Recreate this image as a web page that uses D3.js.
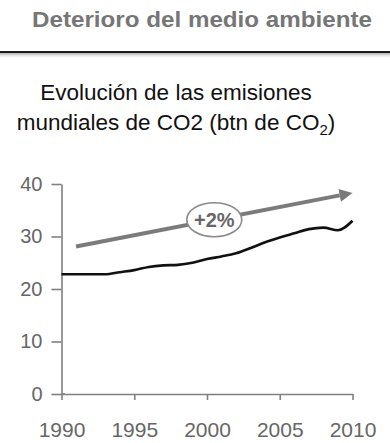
<!DOCTYPE html>
<html>
<head>
<meta charset="utf-8">
<script src="https://cdn.jsdelivr.net/npm/d3@7"></script>
<style>
  html, body { margin: 0; padding: 0; background: #fff; }
  svg { display: block; font-family: "Liberation Sans", Arial, sans-serif; }
</style>
</head>
<body>
<svg id="chart" width="390" height="443"></svg>
<script>
// Global CO2 emissions, billion tonnes
const years = [1990, 1991, 1992, 1993, 1994, 1995, 1996, 1997, 1998, 1999, 2000,
               2001, 2002, 2003, 2004, 2005, 2006, 2007, 2008, 2009, 2010];
const emissions = [22.8, 22.8, 22.8, 22.8, 23.2, 23.6, 24.2, 24.5, 24.6, 25.0, 25.7,
                   26.2, 26.8, 27.8, 28.9, 29.8, 30.6, 31.4, 31.7, 31.2, 33.0];
const yTicks = [0, 10, 20, 30, 40];
const xTicks = [1990, 1995, 2000, 2005, 2010];
// trend arrow: [year, value] start and end
const trendYears = [1991, 2010];
const trendValues = [28.1, 38.3];
const trendLabel = "+2%";

const svg = d3.select("#chart");

// header
svg.append("text")
  .attr("x", 202).attr("y", 26.5)
  .attr("text-anchor", "middle")
  .attr("font-size", 22.5).attr("font-weight", "bold")
  .attr("fill", "#767676")
  .attr("textLength", 340).attr("lengthAdjust", "spacingAndGlyphs")
  .text("Deterioro del medio ambiente");

const defs = svg.append("defs");
const grad = defs.append("linearGradient").attr("id", "shade")
  .attr("x1", 0).attr("y1", 0).attr("x2", 0).attr("y2", 1);
grad.append("stop").attr("offset", "0%").attr("stop-color", "#999").attr("stop-opacity", 0.8);
grad.append("stop").attr("offset", "100%").attr("stop-color", "#fff").attr("stop-opacity", 0);
svg.append("rect").attr("x", 0).attr("y", 53).attr("width", 390).attr("height", 6)
  .attr("fill", "url(#shade)");
svg.append("line").attr("x1", 0).attr("x2", 390).attr("y1", 52).attr("y2", 52)
  .attr("stroke", "#1a1a1a").attr("stroke-width", 2.2);

// subtitle
const sub = svg.append("text")
  .attr("text-anchor", "middle")
  .attr("font-size", 22.5).attr("fill", "#111");
sub.append("tspan").attr("x", 176).attr("y", 100).text("Evolución de las emisiones");
const l2 = sub.append("tspan").attr("x", 176).attr("y", 130);
l2.append("tspan").text("mundiales de CO2 (btn de CO");
l2.append("tspan").attr("font-size", 15).attr("dy", 5).text("2");
l2.append("tspan").attr("dy", -5).text(")");

// scales
const x = d3.scaleLinear().domain([1990, 2010]).range([61.5, 352.5]);
const y = d3.scaleLinear().domain([0, 40]).range([394, 184]);

const axisColor = "#808080";

// y axis
const gy = svg.append("g").attr("transform", "translate(61.5,0)")
  .call(d3.axisLeft(y).tickValues(yTicks).tickSize(10).tickPadding(9).tickSizeOuter(0));
gy.select(".domain").attr("stroke", axisColor).attr("stroke-width", 1.6);
gy.selectAll(".tick line").attr("stroke", axisColor).attr("stroke-width", 1.6);
gy.selectAll(".tick text").attr("font-size", 20).attr("fill", "#666")
  .attr("font-family", "Liberation Sans, Arial, sans-serif");

// x axis
const gx = svg.append("g").attr("transform", "translate(0,394)")
  .call(d3.axisBottom(x).tickValues(xTicks).tickFormat(d3.format("d"))
    .tickSize(6).tickPadding(22).tickSizeOuter(0));
gx.select(".domain").attr("stroke", axisColor).attr("stroke-width", 1.6);
gx.selectAll(".tick line").attr("stroke", axisColor).attr("stroke-width", 1.6);
gx.selectAll(".tick text").attr("font-size", 21).attr("fill", "#666")
  .attr("font-family", "Liberation Sans, Arial, sans-serif");
// the 0 tick crosses the y axis
svg.append("line").attr("x1", 61.5).attr("x2", 65).attr("y1", y(0)).attr("y2", y(0))
  .attr("stroke", axisColor).attr("stroke-width", 1.6);

// emissions line
const line = d3.line().x((d, i) => x(years[i])).y(d => y(d)).curve(d3.curveMonotoneX);
svg.append("path").datum(emissions)
  .attr("d", line)
  .attr("fill", "none").attr("stroke", "#111").attr("stroke-width", 2.6)
  .attr("stroke-linejoin", "round");

// trend arrow
const ax0 = x(trendYears[0]), ay0 = y(trendValues[0]);
const ax1 = x(trendYears[1]), ay1 = y(trendValues[1]);
const ang = Math.atan2(ay1 - ay0, ax1 - ax0);
const headLen = 13, headW = 6.5;
const bx = ax1 - headLen * Math.cos(ang), by = ay1 - headLen * Math.sin(ang);
const arrowColor = "#7b7b7b";
svg.append("line").attr("x1", ax0).attr("y1", ay0).attr("x2", bx).attr("y2", by)
  .attr("stroke", arrowColor).attr("stroke-width", 4);
svg.append("polygon")
  .attr("points", [
    [ax1, ay1],
    [bx + headW * Math.sin(ang), by - headW * Math.cos(ang)],
    [bx - headW * Math.sin(ang), by + headW * Math.cos(ang)]
  ].map(p => p.join(",")).join(" "))
  .attr("fill", arrowColor);

// growth label at the arrow midpoint
const mx = (ax0 + ax1) / 2, my = (ay0 + ay1) / 2;
svg.append("ellipse").attr("cx", mx).attr("cy", my).attr("rx", 27.5).attr("ry", 17)
  .attr("fill", "#fff").attr("stroke", "#8a8a8a").attr("stroke-width", 1.6);
svg.append("text").attr("x", mx).attr("y", my + 7)
  .attr("text-anchor", "middle").attr("font-size", 20).attr("font-weight", "bold")
  .attr("fill", "#666")
  .text(trendLabel);
</script>
</body>
</html>
